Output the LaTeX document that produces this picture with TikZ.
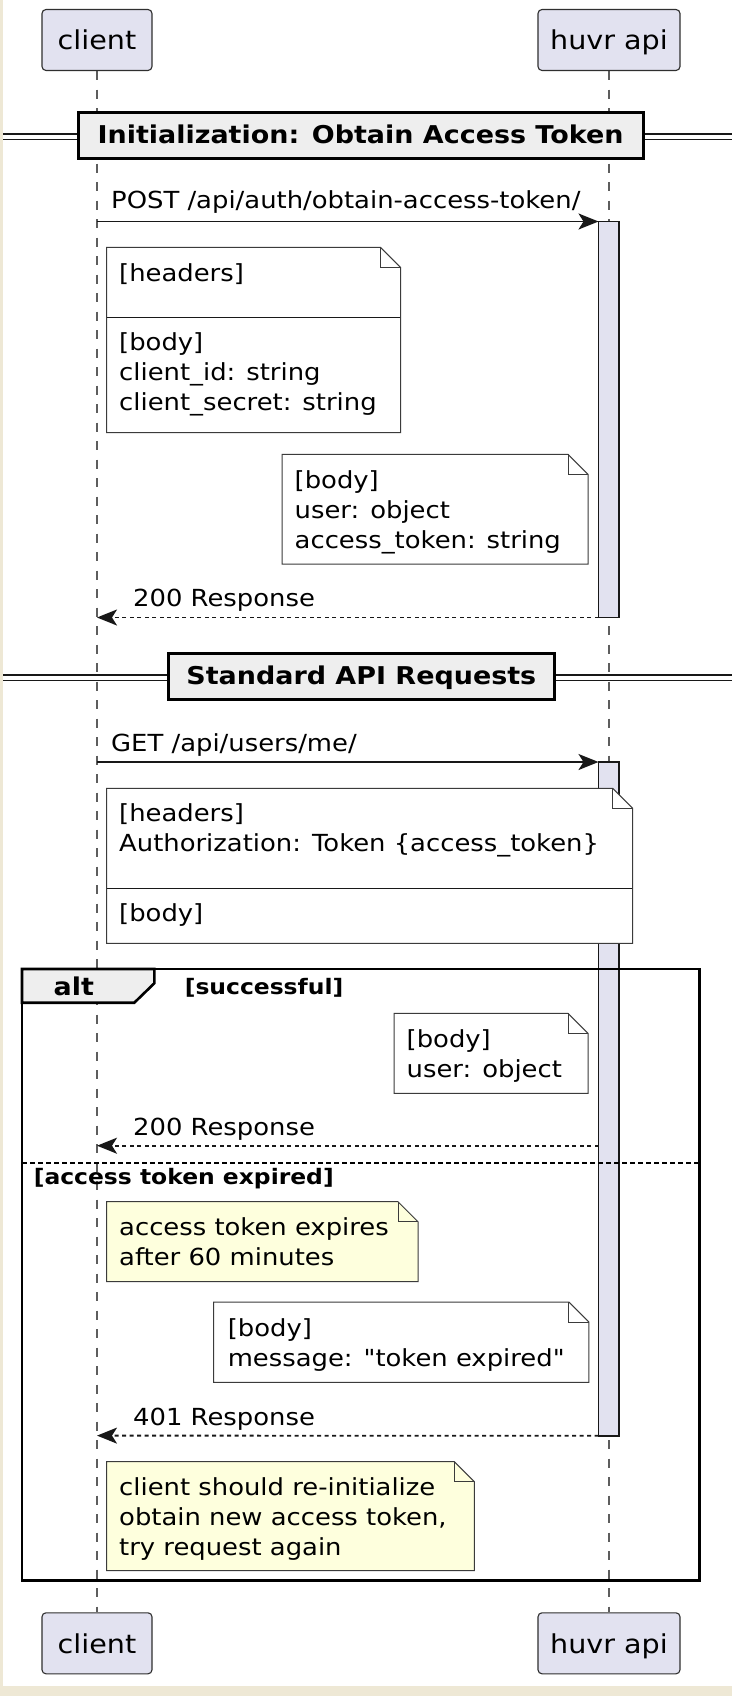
\documentclass[tikz,border=0pt]{standalone}
\usepackage{fontspec}
\setmainfont[FakeStretch=1.1]{DejaVu Sans}
\newfontfamily\qfont[FakeStretch=1.1]{DejaVu Sans}
\usetikzlibrary{arrows.meta,backgrounds}
\definecolor{beige}{HTML}{EEE8D5}
\definecolor{partfill}{HTML}{E2E2F0}
\definecolor{divfill}{HTML}{EEEEEE}
\definecolor{noteyel}{HTML}{FEFFDD}
\definecolor{ink}{HTML}{181818}
\tikzset{
 part/.style={draw=ink!90, line width=1.1pt, rounded corners=4pt, fill=partfill, inner sep=0pt, font=\fontsize{26}{30}\selectfont, text height=20pt, text depth=0pt},
 life/.style={draw=ink!70, line width=1.1pt, dash pattern=on 9pt off 9.5pt},
 act/.style={draw=ink, line width=1.8pt, fill=partfill, minimum width=20.5pt, inner sep=0pt, outer sep=0pt},
 msg/.style={draw=ink, line width=1.8pt, -{Stealth[length=20pt,width=16pt,inset=5pt]}},
 ret/.style={msg, dash pattern=on 4pt off 3.5pt},
 msgtxt/.style={anchor=base west, inner sep=0pt, font=\fontsize{23.5}{30}\selectfont},
 notebox/.style={draw=ink!85, line width=1pt, line join=miter},
 notesep/.style={draw=ink, line width=1.4pt},
 divbox/.style={draw=black, line width=3pt, fill=divfill, inner sep=0pt, font=\bfseries\fontsize{24.5}{30}\selectfont, text height=18pt, text depth=2pt},
 dblline/.style={draw=ink, line width=1.3pt},
 frame/.style={draw=black, line width=2.6pt},
 alttxt/.style={anchor=base, inner sep=0pt, font=\bfseries\fontsize{24.5}{30}\selectfont},
 guard/.style={anchor=base west, inner sep=0pt, font=\bfseries\fontsize{21.3}{26}\selectfont},
 sepdot/.style={draw=black, line width=2pt, dash pattern=on 4.5pt off 3.5pt},
}
\newcommand\notebg[5]{%
 \path[notebox, fill=#5] (#1,#2) -- ({#3-20},#2) -- (#3,{#2+20}) -- (#3,#4) -- (#1,#4) -- cycle;
 \draw[notebox] ({#3-20},#2) -- ({#3-20},{#2+20}) -- (#3,{#2+20});}
\newcommand\ntxt[4]{\node[msgtxt] (#1) at (#2,#3) {#4};}
\begin{document}
\begin{tikzpicture}[x=1pt,y=-1pt]
\useasboundingbox (0,0) rectangle (732,1696);
% participants
\node[part, minimum width=110pt, minimum height=61pt] (c) at (97,40) {client};
\node[part, minimum width=142pt, minimum height=61pt] (h) at (609,40) {huvr api};
\node[part, minimum width=110pt, minimum height=61pt] (cb) at (97,1643.3) {client};
\node[part, minimum width=142pt, minimum height=61pt] (hb) at (609,1643.3) {huvr api};
\begin{pgfonlayer}{background}
\fill[beige] (0,0) rectangle (732,1696);
\fill[white] (3,0) rectangle (732,1685.5);
\draw[life] (c.south) -- (cb.north);
\draw[life] (h.south) -- (hb.north);
\end{pgfonlayer}
% divider 1
\draw[dblline] (3,134) -- (732,134);
\draw[dblline] (3,139.3) -- (732,139.3);
\node[divbox, minimum width=565pt, minimum height=46.3pt] (d1) at (360.5,135.2) {Initialization: Obtain Access Token};
% message 1
\coordinate (m1s) at (97,221.5);
\node[act, minimum height=396pt] (a1) at (608.75,419.5) {};
\draw[msg] (m1s) -- (a1.north west);
\ntxt{m1t}{111}{208.5}{POST /api/auth/obtain-access-token/}
% note 1
\notebg{106.5}{247.3}{400.5}{432.7}{white}
\draw[notesep] (107,317.7) -- (400,317.7);
\ntxt{n1a}{119}{281.7}{[headers]}
\ntxt{n1b}{119}{350}{[body]}
\ntxt{n1c}{119}{380}{client\_id: string}
\ntxt{n1d}{119}{410}{client\_secret: string}
% note 2
\notebg{282}{454.3}{588}{564}{white}
\ntxt{n2a}{294.5}{488}{[body]}
\ntxt{n2b}{294.5}{518}{user: object}
\ntxt{n2c}{294.5}{548}{access\_token: string}
% return 1
\coordinate (r1e) at (97,617.5);
\draw[ret] (a1.south west) -- (r1e);
\ntxt{r1t}{133}{606.7}{200 Response}
% divider 2
\draw[dblline] (3,675) -- (732,675);
\draw[dblline] (3,680.7) -- (732,680.7);
\node[divbox, minimum width=385.5pt, minimum height=46.5pt] (d2) at (361.3,676.7) {Standard API Requests};
% message 2
\coordinate (m2s) at (97,762);
\node[act, minimum height=673.7pt] (a2) at (608.75,1098.85) {};
\draw[msg] (m2s) -- (a2.north west);
\ntxt{m2t}{111}{751.7}{GET /api/users/me/}
% note 3
\notebg{106.5}{788.3}{632.7}{943.3}{white}
\draw[notesep] (107,888.3) -- (632.2,888.3);
\ntxt{n3a}{119}{821.7}{[headers]}
\ntxt{n3b}{119}{851.7}{Authorization: Token \{access\_token\}}
\ntxt{n3c}{119}{921.7}{[body]}
% alt frame
\draw[frame] (22,969) rectangle (699.7,1580.7);
\draw[frame, fill=divfill] (22,969) -- (154.3,969) -- (154.3,983.3) -- (134.3,1002.7) -- (22,1002.7) -- cycle;
\node[alttxt] (alt) at (73.8,995) {alt};
\node[guard] (g1) at (184.6,994) {[successful]};
% note 4
\notebg{394}{1013.3}{588}{1093.3}{white}
\ntxt{n4a}{406.5}{1047.3}{[body]}
\ntxt{n4b}{406.5}{1077.3}{user: object}
% return 2
\coordinate (r2s) at (598.5,1145.7);
\coordinate (r2e) at (97,1145.7);
\draw[ret] (r2s) -- (r2e);
\ntxt{r2t}{133}{1135.7}{200 Response}
% else
\draw[sepdot] (22,1163.3) -- (699.7,1163.3);
\node[guard] (g2) at (33.6,1184.3) {[access token expired]};
% note 5
\notebg{106.5}{1201.7}{418}{1281.7}{noteyel}
\ntxt{n5a}{119}{1235.5}{access token expires}
\ntxt{n5b}{119}{1265.5}{after 60 minutes}
% note 6
\notebg{213.6}{1302}{588.8}{1382.3}{white}
\ntxt{n6a}{227.6}{1336}{[body]}
\ntxt{n6b}{227.6}{1366}{message: {\qfont "}token expired{\qfont "}}
% return 3
\coordinate (r3e) at (97,1435.6);
\draw[ret] (a2.south west) -- (r3e);
\ntxt{r3t}{133}{1425}{401 Response}
% note 7
\notebg{106.5}{1461.7}{474.3}{1570.7}{noteyel}
\ntxt{n7a}{119}{1495.7}{client should re-initialize}
\ntxt{n7b}{119}{1525.7}{obtain new access token,}
\ntxt{n7c}{119}{1555.7}{try request again}
\end{tikzpicture}
\end{document}
